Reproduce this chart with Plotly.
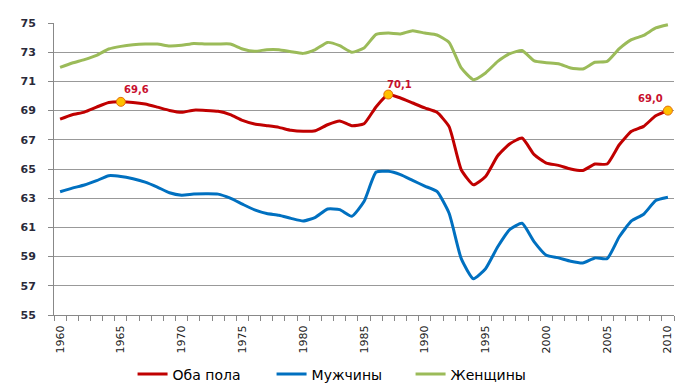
import plotly.graph_objects as go

years = list(range(1960, 2011))

both = [68.42, 68.72, 68.90, 69.24, 69.56, 69.60, 69.56, 69.45, 69.24, 69.01,
        68.88, 69.03, 69.01, 68.95, 68.72, 68.33, 68.08, 67.97, 67.85, 67.65,
        67.58, 67.62, 68.03, 68.29, 67.97, 68.10, 69.27, 70.10, 69.86, 69.52,
        69.18, 68.88, 67.90, 64.95, 63.92, 64.49, 65.91, 66.73, 67.12, 65.98,
        65.41, 65.25, 65.00, 64.90, 65.34, 65.34, 66.66, 67.58, 67.92, 68.65,
        69.00]

men = [63.44, 63.69, 63.90, 64.20, 64.54, 64.49, 64.33, 64.10, 63.76, 63.37,
       63.21, 63.28, 63.30, 63.28, 63.00, 62.59, 62.20, 61.95, 61.83, 61.62,
       61.44, 61.69, 62.26, 62.22, 61.76, 62.77, 64.79, 64.84, 64.61, 64.22,
       63.83, 63.46, 61.97, 58.86, 57.48, 58.17, 59.67, 60.86, 61.28, 60.01,
       59.09, 58.91, 58.68, 58.56, 58.91, 58.86, 60.36, 61.44, 61.90, 62.84,
       63.07]

women = [71.96, 72.26, 72.49, 72.78, 73.22, 73.40, 73.51, 73.56, 73.56, 73.42,
         73.47, 73.60, 73.56, 73.56, 73.56, 73.22, 73.06, 73.17, 73.17, 73.03,
         72.92, 73.18, 73.67, 73.45, 73.00, 73.29, 74.22, 74.31, 74.25, 74.47,
         74.31, 74.18, 73.67, 71.92, 71.12, 71.58, 72.37, 72.90, 73.12, 72.40,
         72.28, 72.21, 71.92, 71.85, 72.31, 72.37, 73.24, 73.86, 74.15, 74.66,
         74.88]

series_names = ["Оба пола", "Мужчины", "Женщины"]
series_colors = ["#C00000", "#0070C0", "#9BBB59"]

marked_years = [1965, 1987, 2010]
marked_labels = ["69,6", "70,1", "69,0"]

x_tick_years = list(range(1960, 2011, 5))
y_ticks = list(range(55, 76, 2))

fig = go.Figure()
for name, vals, col in zip(series_names, [both, men, women], series_colors):
    fig.add_trace(go.Scatter(
        x=years, y=vals, mode="lines", name=name,
        line=dict(color=col, width=3, shape="spline", smoothing=0.5),
    ))

marked_vals = [both[years.index(y)] for y in marked_years]
fig.add_trace(go.Scatter(
    x=marked_years, y=marked_vals, mode="markers",
    marker=dict(size=9, color="#FFC000", line=dict(color="#E46C0A", width=1)),
    showlegend=False, hoverinfo="skip", cliponaxis=False,
))

label_shifts = [(16, 12), (11, 10), (-17, 12)]
for yr, val, lab, (dx, dy) in zip(marked_years, marked_vals, marked_labels, label_shifts):
    fig.add_annotation(
        x=yr, y=val, text=lab, showarrow=False, xshift=dx, yshift=dy,
        font=dict(family="DejaVu Sans", size=10, color="#C8102E", weight="bold"),
    )

# page body has an 8px default margin, so the figure is sized 8px smaller
fig.update_layout(
    width=692, height=380,
    margin=dict(l=46, r=26, t=15, b=73, autoexpand=False),
    paper_bgcolor="white", plot_bgcolor="white",
    showlegend=True,
    legend=dict(orientation="h", xref="container", yref="container",
                x=0.18, xanchor="left", y=0.0355, yanchor="middle",
                font=dict(family="DejaVu Sans", size=14, color="#000000"),
                entrywidth=94, entrywidthmode="pixels",
                itemwidth=30, traceorder="normal"),
    font=dict(family="DejaVu Sans"),
)

fig.update_xaxes(
    range=[1959.5, 2010.5], automargin=False,
    tickmode="array", tickvals=x_tick_years, ticktext=[str(y) for y in x_tick_years],
    tickangle=-90, ticks="", tickfont=dict(size=11, color="#222222"),
    ticklabelstandoff=5,
    showgrid=False, zeroline=False,
    showline=True, linecolor="#888888", linewidth=1,
    minor=dict(ticks="outside", tick0=1959.5, dtick=1, ticklen=5, tickcolor="#888888", showgrid=False),
)

fig.update_yaxes(
    range=[55, 75], automargin=False, tickmode="array", tickvals=y_ticks,
    ticks="outside", ticklen=5, tickcolor="#888888",
    tickfont=dict(size=11, color="#2a2a3a", family="DejaVu Sans, sans-serif", weight="bold"),
    ticklabelstandoff=10,
    showgrid=True, gridcolor="#999999", gridwidth=1, zeroline=False,
    showline=True, linecolor="#888888", linewidth=1,
)

fig.write_html("out.html")
